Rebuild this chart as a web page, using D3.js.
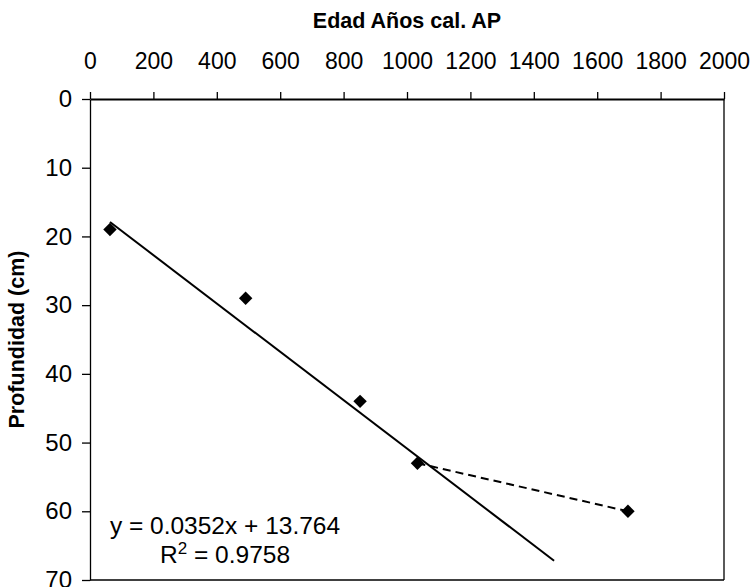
<!DOCTYPE html>
<html>
<head>
<meta charset="utf-8">
<script src="https://cdn.jsdelivr.net/npm/d3@7"></script>
<style>
  html, body { margin: 0; padding: 0; background: #fff; }
  svg { display: block; }
  text { font-family: "Liberation Sans", Arial, sans-serif; fill: #000; }
</style>
</head>
<body>
<div id="chart"></div>
<script>
// ---- data ----
const ages   = [63, 491, 852, 1033, 1697];   // Edad Años cal. AP
const depths = [19, 29, 44, 53, 60];         // Profundidad (cm)
const trendAges   = [63, 1464];              // linear trendline endpoints
const trendDepths = [17.9, 67.2];
const dashAges    = [1033, 1697];            // dashed segment
const dashDepths  = [53, 60];
const xTicks = [0, 200, 400, 600, 800, 1000, 1200, 1400, 1600, 1800, 2000];
const yTicks = [0, 10, 20, 30, 40, 50, 60, 70];
const xTitle = "Edad Años cal. AP";
const yTitle = "Profundidad (cm)";
const eqLine = "y = 0.0352x + 13.764";
const r2Value = "0.9758";

const W = 752, H = 587;
const m = { left: 90, right: 28, top: 99, bottom: 7 };

const svg = d3.select("#chart").append("svg")
  .attr("width", W).attr("height", H);
svg.append("rect").attr("width", W).attr("height", H).attr("fill", "#fff");

const x = d3.scaleLinear().domain([0, 2000]).range([m.left, W - m.right]);
const y = d3.scaleLinear().domain([0, 70]).range([m.top, H - m.bottom]);

// plot frame (right & bottom)
svg.append("line").attr("x1", x(2000)).attr("x2", x(2000)).attr("y1", y(0)).attr("y2", y(70))
  .attr("stroke", "#000").attr("stroke-width", 1.3);
svg.append("line").attr("x1", x(0)).attr("x2", x(2000)).attr("y1", y(70)).attr("y2", y(70))
  .attr("stroke", "#000").attr("stroke-width", 1.3);

// top axis
const xAxis = d3.axisTop(x).tickValues(xTicks).tickSize(7).tickSizeOuter(0).tickPadding(23)
  .tickFormat(d3.format("d"));
const gx = svg.append("g").attr("transform", `translate(0,${y(0)})`).call(xAxis);
gx.select(".domain").attr("stroke", "#000").attr("stroke-width", 2);
gx.selectAll(".tick line").attr("stroke", "#000").attr("stroke-width", 1.3);
gx.selectAll(".tick text").attr("font-size", 23).attr("font-family", "Liberation Sans, Arial, sans-serif")
  .attr("fill", "#000");

// left axis
const yAxis = d3.axisLeft(y).tickValues(yTicks).tickSize(8).tickSizeOuter(0).tickPadding(10)
  .tickFormat(d3.format("d"));
const gy = svg.append("g").attr("transform", `translate(${x(0)},0)`).call(yAxis);
gy.select(".domain").attr("stroke", "#000").attr("stroke-width", 1.3);
gy.selectAll(".tick line").attr("stroke", "#000").attr("stroke-width", 1.3);
gy.selectAll(".tick text").attr("font-size", 24).attr("font-family", "Liberation Sans, Arial, sans-serif")
  .attr("fill", "#000");

// titles
svg.append("text").attr("x", (x(0) + x(2000)) / 2).attr("y", 28)
  .attr("text-anchor", "middle").attr("font-size", 21.5).attr("font-weight", "bold").text(xTitle);
svg.append("text").attr("transform", `translate(24,${(y(0) + y(70)) / 2}) rotate(-90)`)
  .attr("text-anchor", "middle").attr("font-size", 21.5).attr("font-weight", "bold").text(yTitle);

// trendline
const line = d3.line().x(d => x(d[0])).y(d => y(d[1]));
svg.append("path").datum(d3.zip(trendAges, trendDepths)).attr("d", line)
  .attr("fill", "none").attr("stroke", "#000").attr("stroke-width", 2);

// dashed segment
svg.append("path").datum(d3.zip(dashAges, dashDepths)).attr("d", line)
  .attr("fill", "none").attr("stroke", "#000").attr("stroke-width", 2)
  .attr("stroke-dasharray", "8,5");

// markers (diamonds)
const sym = d3.symbol().type(d3.symbolSquare).size(90);
svg.append("g").selectAll("path").data(d3.zip(ages, depths)).join("path")
  .attr("d", sym)
  .attr("transform", d => `translate(${x(d[0])},${y(d[1])}) rotate(45)`)
  .attr("fill", "#000");

// equation
const eqX = 225;
svg.append("text").attr("x", eqX).attr("y", 534).attr("text-anchor", "middle")
  .attr("font-size", 24.5).text(eqLine);
const r2 = svg.append("text").attr("x", eqX).attr("y", 563).attr("text-anchor", "middle")
  .attr("font-size", 24.5);
r2.append("tspan").text("R");
r2.append("tspan").attr("dy", -9).attr("font-size", 17).text("2");
r2.append("tspan").attr("dy", 9).text(" = " + r2Value);
</script>
</body>
</html>
